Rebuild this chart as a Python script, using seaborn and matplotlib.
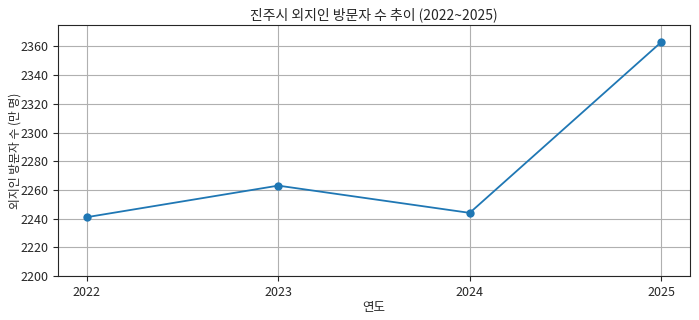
import pandas as pd
import numpy as np
import matplotlib
matplotlib.use("Agg")
import matplotlib.pyplot as plt
import seaborn as sns

# 데이터
years = [2022, 2023, 2024, 2025]
visitors = [2241, 2263, 2244, 2363]

df = pd.DataFrame({"연도": years, "방문자": visitors})

sns.set_style("ticks")
plt.rcParams['font.family'] = ['Noto Sans CJK KR', 'DejaVu Sans']

fig, ax = plt.subplots(figsize=(6.99, 3.2), dpi=100)
sns.lineplot(data=df, x="연도", y="방문자", marker='o', markersize=6,
             markeredgewidth=0, color='#1f77b4', linewidth=1.3, ax=ax)
ax.set_title('진주시 외지인 방문자 수 추이 (2022~2025)', fontsize=10, pad=4)
ax.set_xlabel('연도', fontsize=9, labelpad=2)
ax.set_ylabel('외지인 방문자 수 (만 명)', fontsize=8.5)
ax.yaxis.set_label_coords(-0.057, 0.5)
ax.set_xticks(years)
ax.tick_params(labelsize=9)
ax.set_ylim(2200, 2375)
ax.grid(True, color='#b0b0b0', linewidth=0.8)
fig.subplots_adjust(left=0.083, right=0.987, top=0.922, bottom=0.1375)
plt.savefig("out.png", dpi=100)
